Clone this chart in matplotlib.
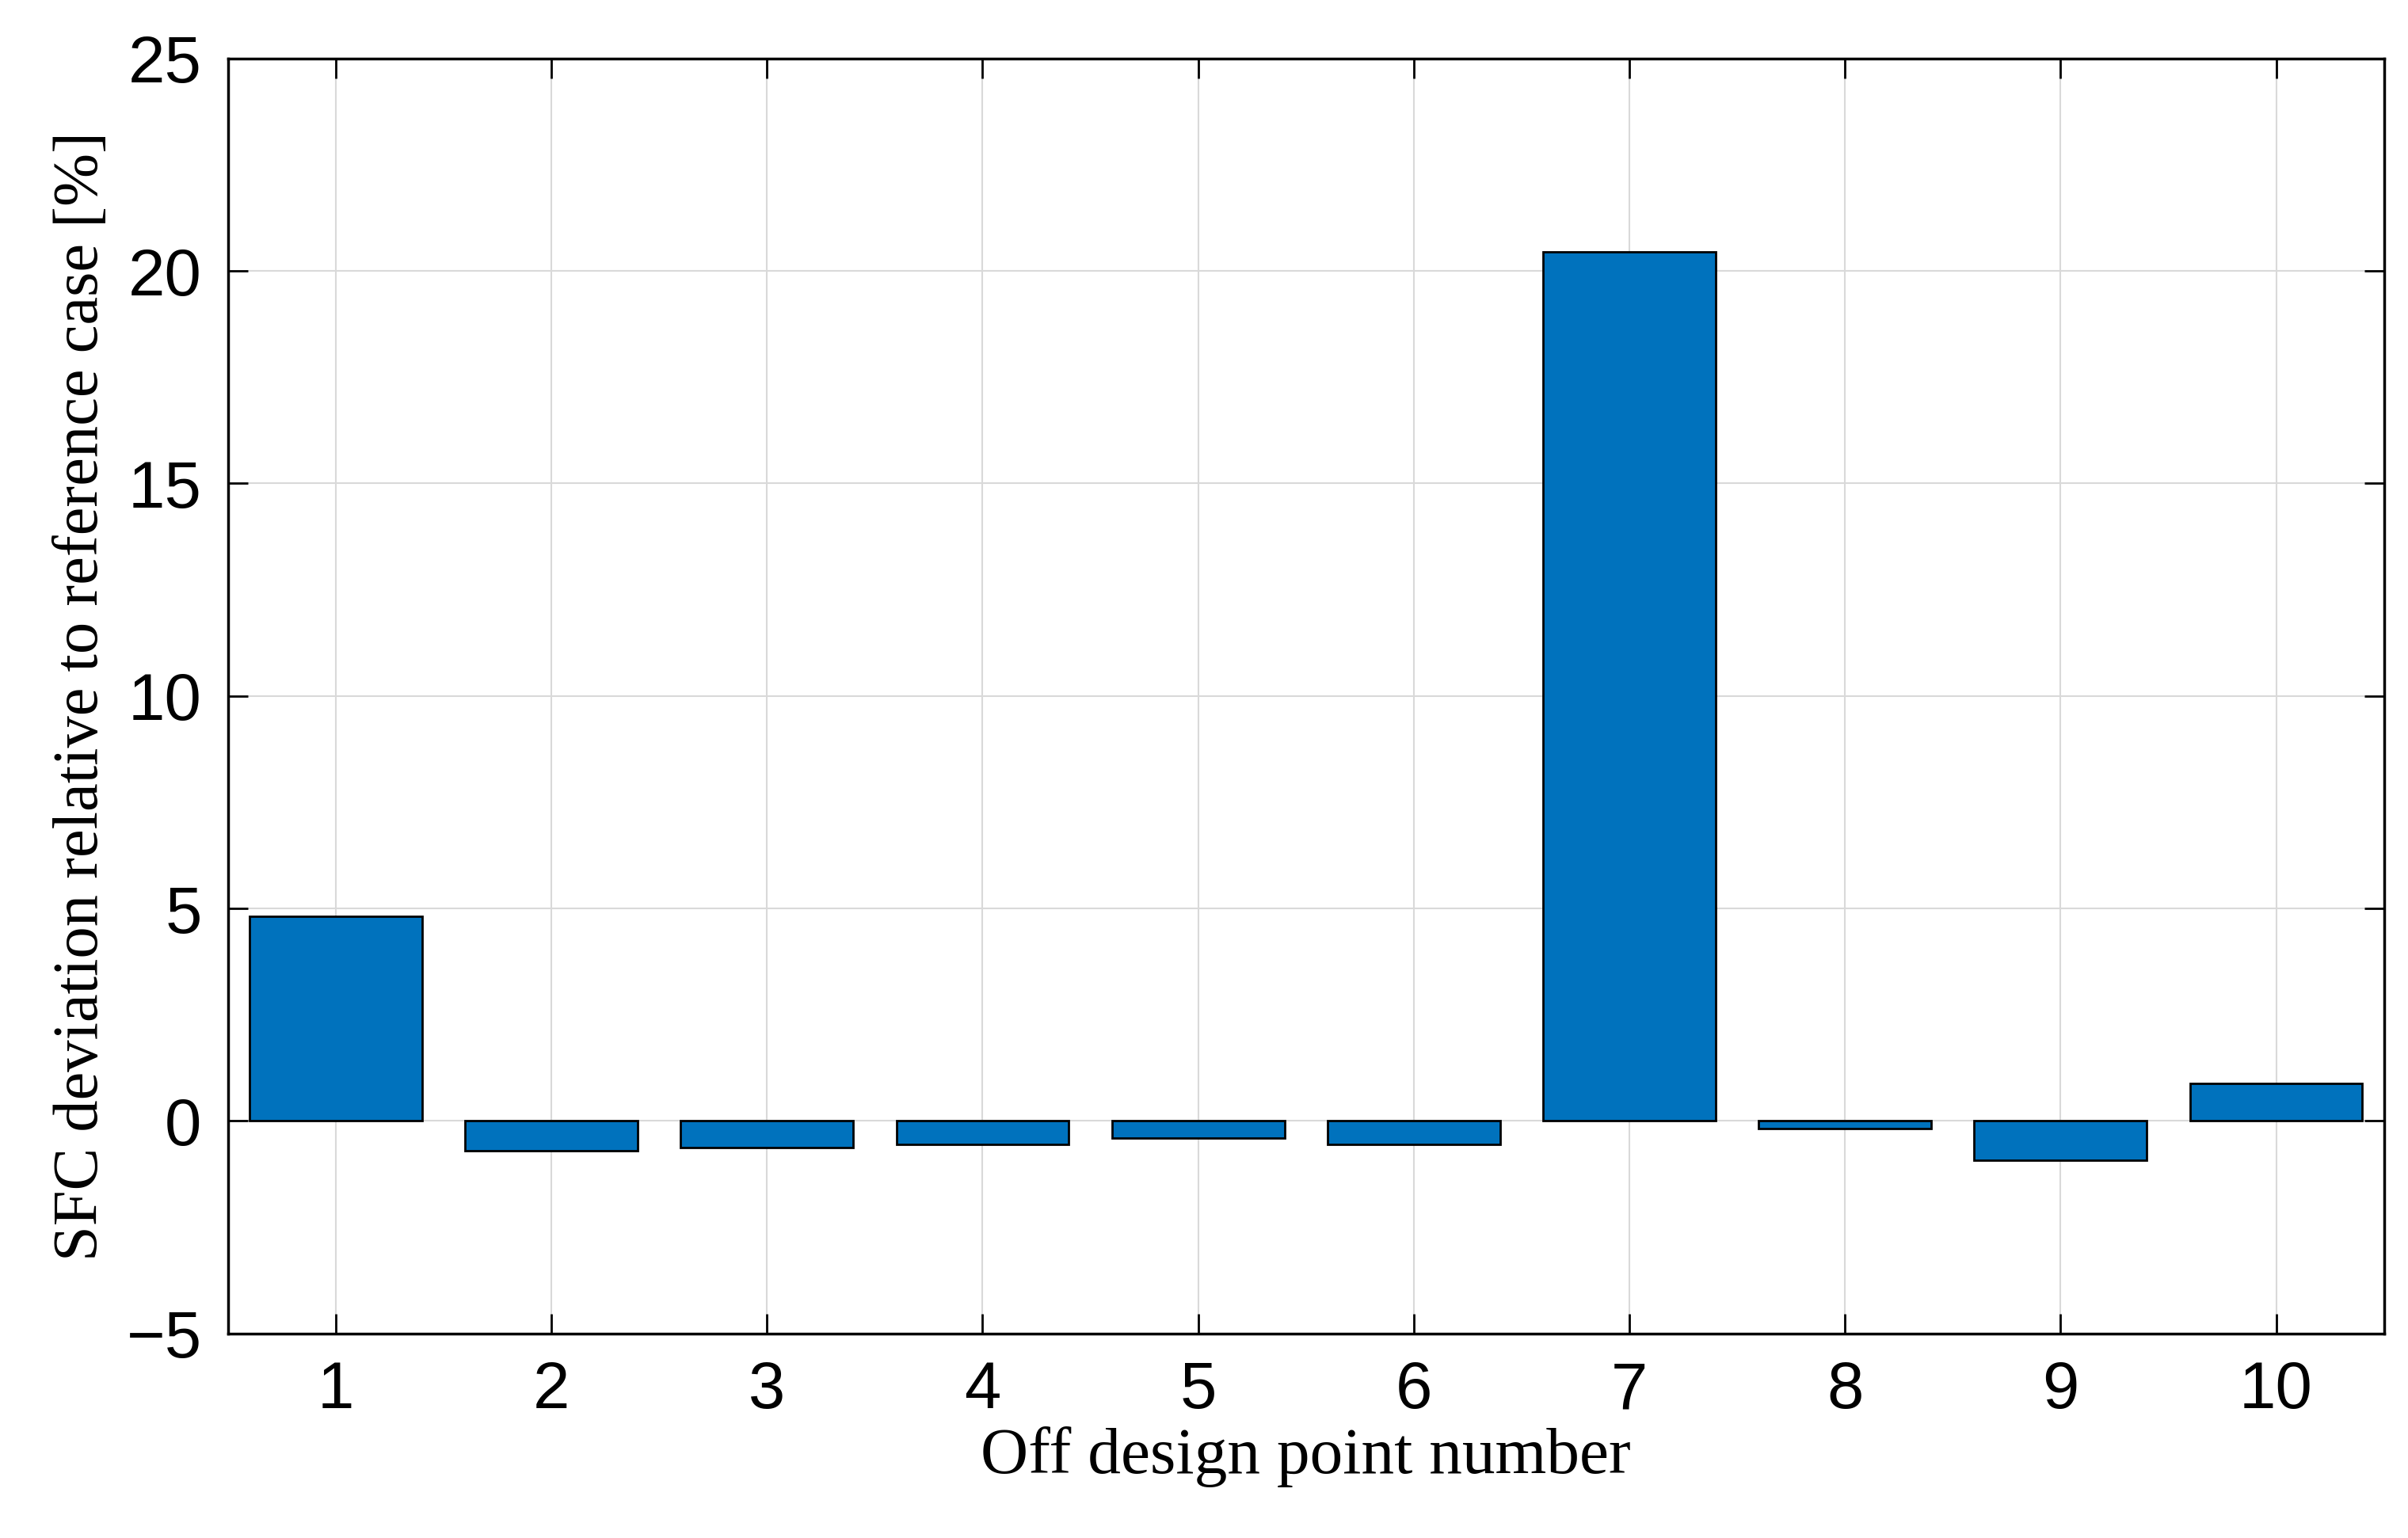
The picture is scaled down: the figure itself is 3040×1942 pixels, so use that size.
import matplotlib
matplotlib.use("Agg")
import matplotlib.pyplot as plt

points = [1, 2, 3, 4, 5, 6, 7, 8, 9, 10]
sfc_dev = [4.82, -0.7, -0.62, -0.55, -0.4, -0.55, 20.45, -0.18, -0.92, 0.88]
yticks = [-5, 0, 5, 10, 15, 20, 25]

fig = plt.figure(figsize=(30.4, 19.42), dpi=100)
ax = fig.add_axes([0.0947, 0.133, 0.8953, 0.829])
ax.bar(points, sfc_dev, width=0.8, color='#0072BD', edgecolor='black', linewidth=2, zorder=3)
ax.set_xlim(0.5, 10.5)
ax.set_ylim(-5, 25)
ax.set_xticks(points)
ax.set_yticks(yticks)
ax.grid(True, color='#d9d9d9', linewidth=1.5, zorder=0)
ax.tick_params(direction='in', length=18, width=2, top=True, right=True, labelsize=60, pad=24)
for lab in ax.get_xticklabels() + ax.get_yticklabels():
    lab.set_family('Liberation Sans')
for s in ax.spines.values():
    s.set_linewidth(2.5)
ax.set_xlabel('Off design point number', family='Liberation Serif', fontsize=60, labelpad=4)
ax.set_ylabel('SFC deviation relative to reference case [%]', family='Liberation Serif', fontsize=58, labelpad=14)
fig.savefig('out.png', dpi=100)
